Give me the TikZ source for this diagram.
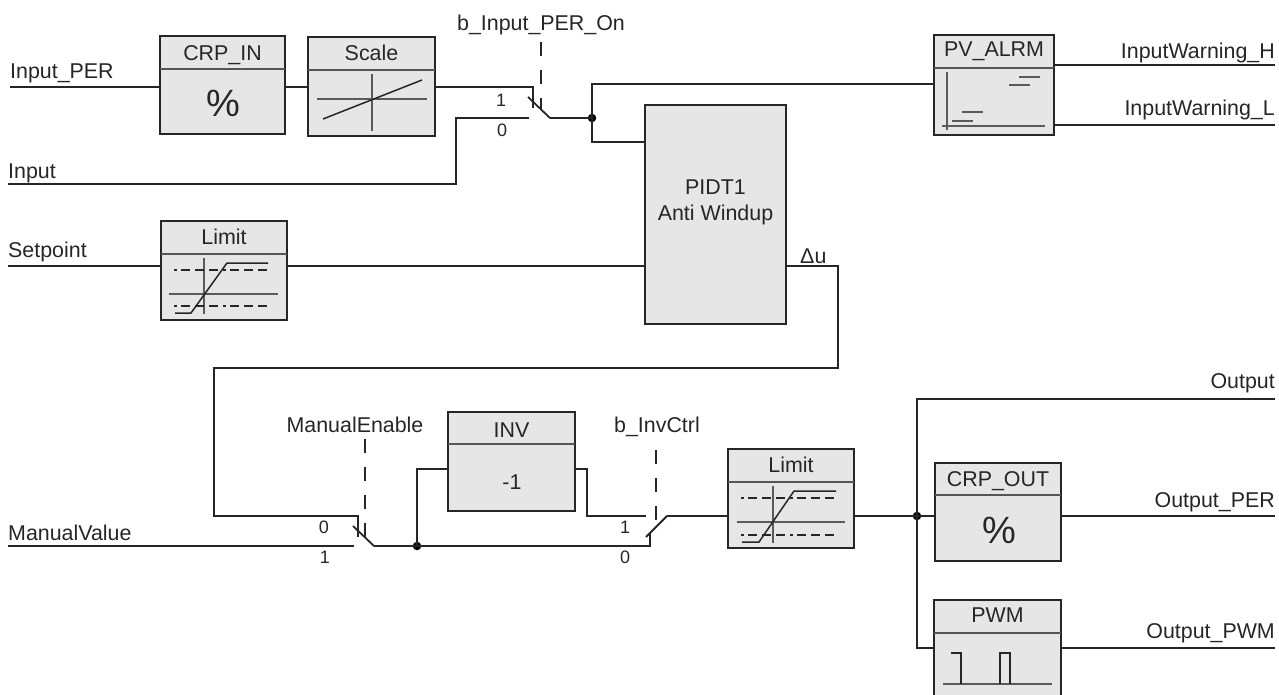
\documentclass[tikz,border=0pt]{standalone}
\usepackage{fontspec}
\setmainfont{Liberation Sans}
\definecolor{ink}{HTML}{262626}
\definecolor{boxfill}{HTML}{E6E6E6}
\definecolor{divline}{HTML}{555555}
\definecolor{graph}{HTML}{5A5A5A}
\tikzset{
  blockbox/.style={draw=ink,fill=boxfill,line width=2.8pt,outer sep=0pt,inner sep=0pt},
  divider/.style={draw=divline,line width=1.5pt},
  wire/.style={draw=ink,line width=1.6pt},
  ctrl/.style={draw=ink,line width=1.5pt,dash pattern=on 14pt off 14pt},
  blade/.style={draw=ink,line width=1.8pt},
  graphline/.style={draw=graph,line width=1.5pt},
  graphdark/.style={draw=ink,line width=1.5pt},
  limdash/.style={draw=ink,line width=2pt,dash pattern=on 3pt off 4pt on 9pt off 5pt on 9pt off 5pt on 9pt off 5pt},
  lab/.style={font=\fontsize{21.4}{26}\selectfont,text=ink,inner sep=0pt},
  small/.style={font=\fontsize{18}{22}\selectfont,text=ink,inner sep=0pt},
  pct/.style={text=ink,inner sep=0pt,font=\fontsize{38}{42}\selectfont},
  dot/.style={circle,fill=black,inner sep=0pt,minimum size=8.5pt},
}
% name, x1, y1, x2, y2, divider y, title baseline y, title
\newcommand{\fblock}[8]{%
  \node[blockbox,minimum width={#4-#2},minimum height={#5-#3}] (#1) at ({(#2+#4)/2},{(#3+#5)/2}) {};
  \draw[divider] (#2,#6) -- (#4,#6);
  \node[lab,anchor=base] (#1t) at ({(#2+#4)/2},#7) {#8};
}
\begin{document}
\begin{tikzpicture}[x=1pt,y=-1pt]
\useasboundingbox (0,0) rectangle (1279,695);
% blocks
\fblock{crpin}{160}{36}{285}{134}{69}{60.5}{CRP\_IN}
\node[pct] (crpinp) at (223,103) {\%};
\fblock{scale}{308}{37}{435}{136}{70}{61}{Scale}
\draw[graphline] (317,99) -- (427,99);
\draw[graphline] (372,74) -- (372,131);
\draw[graphdark] (323,119) -- (422,80);
\fblock{alrm}{934}{35}{1054}{135}{68}{57}{PV\_ALRM}
\draw[graphline] (947,72) -- (947,130);
\draw[graphline] (942,126) -- (1045,126);
\draw[graphline] (1019,77) -- (1040,77);
\draw[graphline] (1009,85) -- (1030,85);
\draw[graphline] (962,112) -- (983,112);
\draw[graphline] (952,121) -- (973,121);
\node[blockbox,minimum width=141pt,minimum height=219pt] (pid) at (715.5,214.5) {};
\node[lab,align=center] (pidt) at (715.5,202) {PIDT1\\Anti Windup};
\fblock{lim}{161}{221}{287}{320}{254}{244}{Limit}
\draw[graphline] (204,258) -- (204,314);
\draw[graphline] (169,294) -- (278,294);
\draw[limdash] (174,270) -- (270,270);
\draw[limdash] (174,306) -- (270,306);
\draw[graphdark] (175,313) -- (191,313) -- (227,263) -- (268,263);
\fblock{inv}{448}{412}{575}{511}{444}{437}{INV}
\node[lab] (invv) at (512,482) {-1};
\fblock{limb}{728}{449}{854}{548}{482}{472}{Limit}
\draw[graphline] (773,486) -- (773,543);
\draw[graphline] (737,522) -- (845,522);
\draw[limdash] (741,498) -- (838,498);
\draw[limdash] (741,535) -- (838,535);
\draw[graphdark] (742,542) -- (759,542) -- (794,491) -- (836,491);
\fblock{crpout}{935}{463}{1061}{561}{495}{486}{CRP\_OUT}
\node[pct] (crpoutp) at (999,530) {\%};
\fblock{pwm}{934}{600}{1061}{699}{633}{622}{PWM}
\draw[graphline] (943,684) -- (1052,684);
\draw[graphdark] (951,653) -- (961,653) -- (961,684);
\draw[graphdark] (1000,684) -- (1000,653) -- (1010,653) -- (1010,684);
% labels
\node[lab,anchor=base west] (lip) at (10,79) {Input\_PER};
\node[lab,anchor=base west] (lin) at (8,179) {Input};
\node[lab,anchor=base west] (lsp) at (8,257) {Setpoint};
\node[lab,anchor=base west] (lmv) at (8,540) {ManualValue};
\node[lab,anchor=base] (lbi) at (541,31) {b\_Input\_PER\_On};
\node[lab,anchor=base] (lme) at (355,432) {ManualEnable};
\node[lab,anchor=base] (lbc) at (657,432) {b\_InvCtrl};
\node[lab,anchor=base east] (lwh) at (1275,59) {InputWarning\_H};
\node[lab,anchor=base east] (lwl) at (1275,116) {InputWarning\_L};
\node[lab,anchor=base east] (lo) at (1275,388) {Output};
\node[lab,anchor=base east] (lop) at (1275,507) {Output\_PER};
\node[lab,anchor=base east] (lopw) at (1275,638) {Output\_PWM};
\node[lab,anchor=base west] (ldu) at (800,263) {\symbol{"0394}u};
\node[small] (s1a) at (501,100) {1};
\node[small] (s1b) at (502,130) {0};
\node[small] (s2a) at (324,527) {0};
\node[small] (s2b) at (325,557) {1};
\node[small] (s3a) at (625,527) {1};
\node[small] (s3b) at (625,557) {0};
% free ends and junctions
\coordinate (eip) at (10,87);
\coordinate (ein) at (8,184);
\coordinate (esp) at (8,266);
\coordinate (emv) at (8,546);
\coordinate (ewh) at (1275,65);
\coordinate (ewl) at (1275,125);
\coordinate (eo) at (1275,399);
\coordinate (eop) at (1275,516);
\coordinate (eopw) at (1275,648);
\node[dot] (j1) at (592,118) {};
\node[dot] (j2) at (417,546) {};
\node[dot] (j3) at (917,516) {};
% switch 1
\coordinate (sa1) at (533,87);
\coordinate (sa2) at (533,108);
\coordinate (sb1) at (528,97);
\coordinate (sb2) at (550,118);
\coordinate (sc) at (529,118);
\draw[wire] (eip) -- (crpin.west |- eip);
\draw[wire] (crpin.east |- sa1) -- (scale.west |- sa1);
\draw[wire] (scale.east |- sa1) -- (sa1) -- (sa2);
\draw[blade] (sb1) -- (sb2);
\draw[wire] (sb2) -- (j1.center);
\draw[wire] (ein) -- (456,184) -- (456,118) -- (sc);
\draw[wire] (j1.center) -- (592,84) -- (alrm.west |- 0,84);
\draw[wire] (j1.center) -- (592,142) -- (pid.west |- 0,142);
\draw[wire] (alrm.east |- ewh) -- (ewh);
\draw[wire] (alrm.east |- ewl) -- (ewl);
\draw[ctrl] (541,42) -- (541,110);
% setpoint, PID output
\draw[wire] (esp) -- (lim.west |- esp);
\draw[wire] (lim.east |- esp) -- (pid.west |- esp);
\draw[wire] (pid.east |- esp) -- (838,266) -- (838,368) -- (214,368) -- (214,516) -- (358,516) -- (358,537);
% switch 2
\draw[wire] (emv) -- (354,546);
\draw[blade] (353,526) -- (374,546);
\draw[wire] (374,546) -- (j2.center);
\draw[wire] (j2.center) -- (650,546) -- (650,533);
\draw[wire] (j2.center) -- (417,469) -- (inv.west |- 0,469);
\draw[wire] (inv.east |- 0,469) -- (587,469) -- (587,516) -- (646,516);
\draw[ctrl] (365,439) -- (365,537);
% switch 3
\draw[blade] (646,537) -- (667,516);
\draw[wire] (667,516) -- (limb.west |- 0,516);
\draw[ctrl] (656,450) -- (656,525);
% outputs
\draw[wire] (limb.east |- 0,516) -- (j3.center);
\draw[wire] (j3.center) -- (crpout.west |- j3);
\draw[wire] (crpout.east |- eop) -- (eop);
\draw[wire] (j3.center) -- (917,399) -- (eo);
\draw[wire] (j3.center) -- (917,648) -- (pwm.west |- eopw);
\draw[wire] (pwm.east |- eopw) -- (eopw);
\end{tikzpicture}
\end{document}
